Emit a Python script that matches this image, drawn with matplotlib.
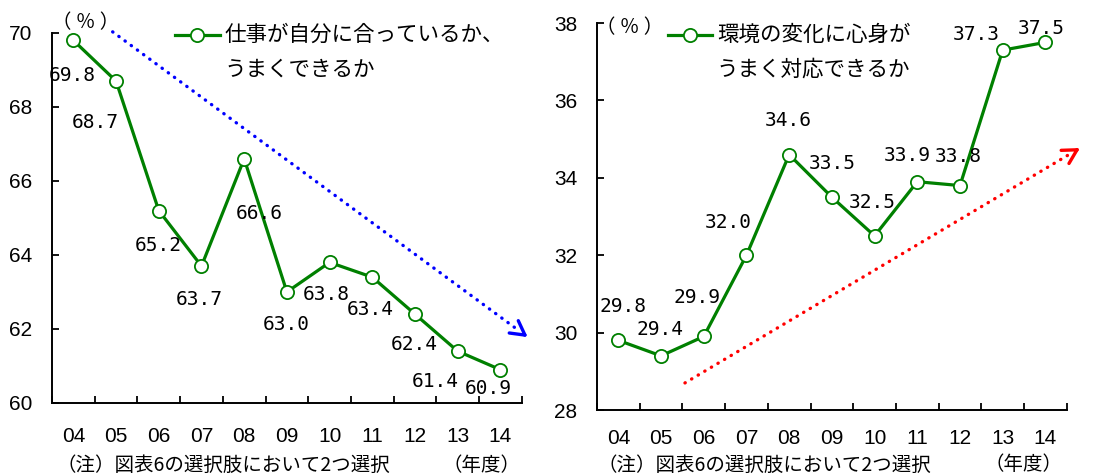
import matplotlib
matplotlib.use("Agg")
import matplotlib.pyplot as plt

plt.rcParams["font.family"] = ["Liberation Sans", "Noto Sans CJK JP", "DejaVu Sans"]

years = ["04", "05", "06", "07", "08", "09", "10", "11", "12", "13", "14"]

fit_work = [69.8, 68.7, 65.2, 63.7, 66.6, 63.0, 63.8, 63.4, 62.4, 61.4, 60.9]
fit_label = ["仕事が自分に合っているか、", "うまくできるか"]

adapt = [29.8, 29.4, 29.9, 32.0, 34.6, 33.5, 32.5, 33.9, 33.8, 37.3, 37.5]
adapt_label = ["環境の変化に心身が", "うまく対応できるか"]

note = "（注）図表6の選択肢において2つ選択"
unit_x = "（年度）"
unit_y = "（ ％ ）"

GREEN = "#008000"
JP = ["Noto Sans CJK JP", "DejaVu Sans"]
PX = 72 / 100  # pixels -> points at dpi 100

# label offsets in pixels (dx right, dy down) relative to each point
left_off = [(-1, 35), (-21, 41), (-1, 35), (-2, 33), (15, 55), (-1, 33),
            (-3, 32), (-2, 32), (-1, 30), (-22, 30), (-12, 19)]
right_off = [(5, -34), (-1, -26), (-7, -39), (-18, -33), (-1, -34), (0, -34),
             (-2, -33), (-10, -26), (-2, -29), (-26, -16), (-4, -14)]


def style_axes(ax, ylim, yticks, pad_x):
    ax.set_xlim(-0.5, len(years) - 0.5)
    ax.set_ylim(*ylim)
    ax.set_yticks(yticks)
    ax.set_xticks(range(len(years)))
    ax.set_xticklabels(years)
    ax.set_xticks([i - 0.5 for i in range(len(years) + 1)], minor=True)
    ax.tick_params(axis="x", which="major", length=0, pad=pad_x, labelsize=15)
    ax.tick_params(axis="x", which="minor", direction="in", length=5, width=1.3)
    ax.tick_params(axis="y", direction="in", length=5, width=1.3, pad=14,
                   labelsize=15)
    for s in ("top", "right"):
        ax.spines[s].set_visible(False)
    for s in ("left", "bottom"):
        ax.spines[s].set_linewidth(1.4)


def draw_series(ax, vals, offsets):
    x = range(len(vals))
    ax.plot(x, vals, color=GREEN, lw=2.3, marker="o", ms=9.5, mfc="white",
            mec=GREEN, mew=1.3, clip_on=False, zorder=3)
    for i, (v, (dx, dy)) in enumerate(zip(vals, offsets)):
        ax.annotate(f"{v:.1f}", (i, v), xytext=(dx * PX, -dy * PX),
                    textcoords="offset points", ha="center", va="center",
                    fontsize=14, family="DejaVu Sans Mono", zorder=4)


def draw_legend(ax, x0, x1, y, tx, ty2, lines):
    ax.plot([x0, x1], [y, y], transform=ax.transAxes, color=GREEN, lw=2.3,
            clip_on=False)
    ax.plot([(x0 + x1) / 2], [y], transform=ax.transAxes, marker="o", ms=9.5,
            mfc="white", mec=GREEN, mew=1.3, clip_on=False)
    ax.text(tx, y, lines[0], transform=ax.transAxes, va="center", fontsize=15.5,
            family=JP)
    ax.text(tx, ty2, lines[1], transform=ax.transAxes, va="center",
            fontsize=15.5, family=JP)


def trend_arrow(ax, start, end, color):
    # dotted trend line, stopping a little short of the head
    sx = start[0] + (end[0] - start[0]) * 0.975
    sy = start[1] + (end[1] - start[1]) * 0.975
    ax.plot([start[0], sx], [start[1], sy], color=color, lw=2.4,
            ls=(0, (0.1, 2.2)), dash_capstyle="round", clip_on=False)
    # short solid stub just for the open head
    fx = start[0] + (end[0] - start[0]) * 0.99
    fy = start[1] + (end[1] - start[1]) * 0.99
    ax.annotate("", xy=end, xytext=(fx, fy), annotation_clip=False,
                arrowprops=dict(arrowstyle="->,head_length=1.0,head_width=0.55",
                                color=color, lw=2.4, shrinkA=0, shrinkB=0))


fig = plt.figure(figsize=(10.95, 4.75), dpi=100)

# left panel
ax1 = fig.add_axes([0.0475, 0.1516, 0.429, 0.779])
style_axes(ax1, (60, 70), range(60, 71, 2), 17)
trend_arrow(ax1, (0.92, 70.03), (10.64, 61.78), "blue")
draw_series(ax1, fit_work, left_off)
draw_legend(ax1, 0.262, 0.357, 0.9946, 0.368, 0.90, fit_label)
ax1.text(0.0723, 1.027, unit_y, transform=ax1.transAxes, ha="center",
         va="center", fontsize=14, family=JP)
ax1.text(0.0106, -0.168, note, transform=ax1.transAxes, va="center",
         fontsize=14, family=JP)
ax1.text(0.832, -0.168, unit_x, transform=ax1.transAxes, va="center",
         fontsize=14, family=JP)

# right panel
ax2 = fig.add_axes([0.5452, 0.1368, 0.429, 0.8147])
style_axes(ax2, (28, 38), range(28, 39, 2), 14)
trend_arrow(ax2, (1.56, 28.7), (10.81, 34.77), "red")
draw_series(ax2, adapt, right_off)
draw_legend(ax2, 0.151, 0.245, 0.969, 0.255, 0.879, adapt_label)
ax2.text(0.070, 0.987, unit_y, transform=ax2.transAxes, ha="center",
         va="center", fontsize=14, family=JP)
ax2.text(0.002, -0.142, note, transform=ax2.transAxes, va="center",
         fontsize=14, family=JP)
ax2.text(0.8255, -0.142, unit_x, transform=ax2.transAxes, va="center",
         fontsize=14, family=JP)

fig.savefig("out.png", dpi=100)
